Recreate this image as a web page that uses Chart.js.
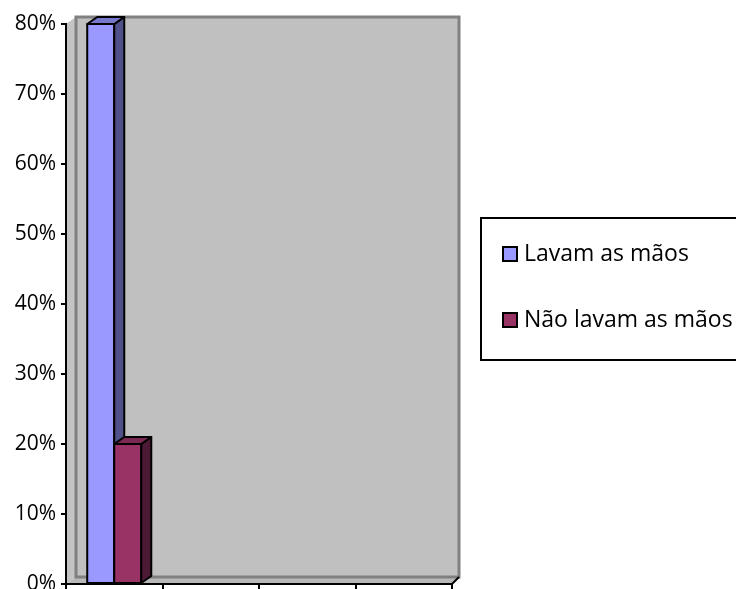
<!DOCTYPE html>
<html>
<head>
<meta charset="utf-8">
<script src="https://cdn.jsdelivr.net/npm/chart.js@4.4.0/dist/chart.umd.min.js"></script>
<style>
  body { margin: 0; background: #fff; }
  #wrap { width: 736px; height: 589px; }
</style>
</head>
<body>
<div id="wrap"><canvas id="myChart"></canvas></div>
<script>
// ---- data ----
const categories = ["", "", "", ""];
const seriesNames = ["Lavam as mãos", "Não lavam as mãos"];
const lavamValues = [80, null, null, null];
const naoLavamValues = [20, null, null, null];
const yMax = 80;
const yStep = 10;

// ---- colours ----
const frontColors = ["#9999ff", "#993366"];
const sideColors = ["#50508a", "#4d1a35"];
const topColors = ["#7777cc", "#7a2952"];

const FONT = "'Open Sans', 'Liberation Sans', sans-serif";
const DX = 10, DY = 7;

// grey back wall, side wall and floor behind the bars
const wall3d = {
  id: "wall3d",
  beforeDraw(chart) {
    const { ctx, chartArea: a } = chart;
    const l = a.left, r = a.right, t = a.top, b = a.bottom;
    ctx.save();
    ctx.fillStyle = "#fff";
    ctx.fillRect(0, 0, chart.width, chart.height);

    ctx.lineJoin = "miter";
    // left wall
    ctx.fillStyle = "#c4c4c4";
    ctx.beginPath();
    ctx.moveTo(l, t); ctx.lineTo(l + DX, t - DY); ctx.lineTo(l + DX, b - DY); ctx.lineTo(l, b);
    ctx.closePath(); ctx.fill();
    // floor
    ctx.fillStyle = "#b8b8b8";
    ctx.beginPath();
    ctx.moveTo(l, b); ctx.lineTo(l + DX, b - DY); ctx.lineTo(r + 7, b - DY); ctx.lineTo(r, b);
    ctx.closePath(); ctx.fill();
    // back wall
    ctx.fillStyle = "#c0c0c0";
    ctx.fillRect(l + DX, t - DY, r + 7 - l - DX, b - t);
    ctx.strokeStyle = "#808080";
    ctx.lineWidth = 3;
    ctx.strokeRect(l + DX, t - DY, r + 7 - l - DX, b - t);
    // floor front edge
    ctx.strokeStyle = "#000";
    ctx.lineWidth = 2;
    ctx.beginPath();
    ctx.moveTo(r, b); ctx.lineTo(r + 7, b - DY);
    ctx.stroke();
    ctx.restore();
  },
  // side and top faces of each bar; fronts are redrawn so the second series sits in front
  afterDatasetsDraw(chart) {
    const ctx = chart.ctx;
    ctx.save();
    ctx.lineWidth = 2;
    ctx.strokeStyle = "#000";
    ctx.lineJoin = "round";
    chart.data.datasets.forEach((ds, i) => {
      const meta = chart.getDatasetMeta(i);
      meta.data.forEach((bar, j) => {
        if (ds.data[j] == null) return;
        const p = bar.getProps(["x", "y", "base", "width"], true);
        const l = p.x - p.width / 2, r = p.x + p.width / 2;
        const y = p.y, b = p.base;
        ctx.fillStyle = frontColors[i];
        ctx.fillRect(l, y, r - l, b - y);
        ctx.strokeRect(l, y, r - l, b - y);
        // side
        ctx.fillStyle = sideColors[i];
        ctx.beginPath();
        ctx.moveTo(r, y); ctx.lineTo(r + DX, y - DY); ctx.lineTo(r + DX, b - DY); ctx.lineTo(r, b);
        ctx.closePath(); ctx.fill(); ctx.stroke();
        // top
        ctx.fillStyle = topColors[i];
        ctx.beginPath();
        ctx.moveTo(l, y); ctx.lineTo(l + DX, y - DY); ctx.lineTo(r + DX, y - DY); ctx.lineTo(r, y);
        ctx.closePath(); ctx.fill(); ctx.stroke();
      });
    });
    ctx.restore();
  },
  // boxed legend on the right
  afterDraw(chart) {
    const ctx = chart.ctx;
    ctx.save();
    ctx.strokeStyle = "#000";
    ctx.lineWidth = 2;
    ctx.strokeRect(481, 218, 270, 142);
    ctx.font = "23px " + FONT;
    ctx.textBaseline = "middle";
    ctx.textAlign = "left";
    chart.data.datasets.forEach((ds, i) => {
      const yy = 254 + i * 66;
      ctx.fillStyle = frontColors[i];
      ctx.fillRect(503, yy - 7, 14, 14);
      ctx.strokeRect(503, yy - 7, 14, 14);
      ctx.fillStyle = "#000";
      ctx.fillText(ds.label, 524, yy);
    });
    ctx.restore();
  }
};

new Chart(document.getElementById("myChart"), {
  type: "bar",
  data: {
    labels: categories,
    datasets: [
      { label: seriesNames[0], data: lavamValues, backgroundColor: frontColors[0], borderColor: "#000", borderWidth: 2 },
      { label: seriesNames[1], data: naoLavamValues, backgroundColor: frontColors[1], borderColor: "#000", borderWidth: 2 }
    ]
  },
  options: {
    responsive: true,
    maintainAspectRatio: false,
    animation: false,
    devicePixelRatio: 1,
    layout: { padding: { top: 24, right: 284, left: 0, bottom: 0 } },
    plugins: { legend: { display: false }, tooltip: { enabled: false } },
    datasets: { bar: { categoryPercentage: 0.56, barPercentage: 1 } },
    scales: {
      x: {
        grid: { drawOnChartArea: false, color: "#000", lineWidth: 2, tickLength: 5, offset: true },
        border: { color: "#000", width: 2 },
        ticks: { display: false },
        afterFit(scale) { scale.height = 5; scale.paddingLeft = 0; scale.paddingRight = 0; }
      },
      y: {
        min: 0,
        max: yMax,
        ticks: {
          stepSize: yStep,
          color: "#000",
          padding: 5,
          font: { family: FONT, size: 21 },
          callback: v => v + "%"
        },
        grid: { drawOnChartArea: false, color: "#000", lineWidth: 2, tickLength: 5 },
        border: { color: "#000", width: 2 },
        // the 0% label may run past the bottom edge
        afterFit(scale) { scale.width = 66; scale.paddingTop = 0; scale.paddingBottom = 0; }
      }
    }
  },
  plugins: [wall3d]
});
</script>
</body>
</html>
